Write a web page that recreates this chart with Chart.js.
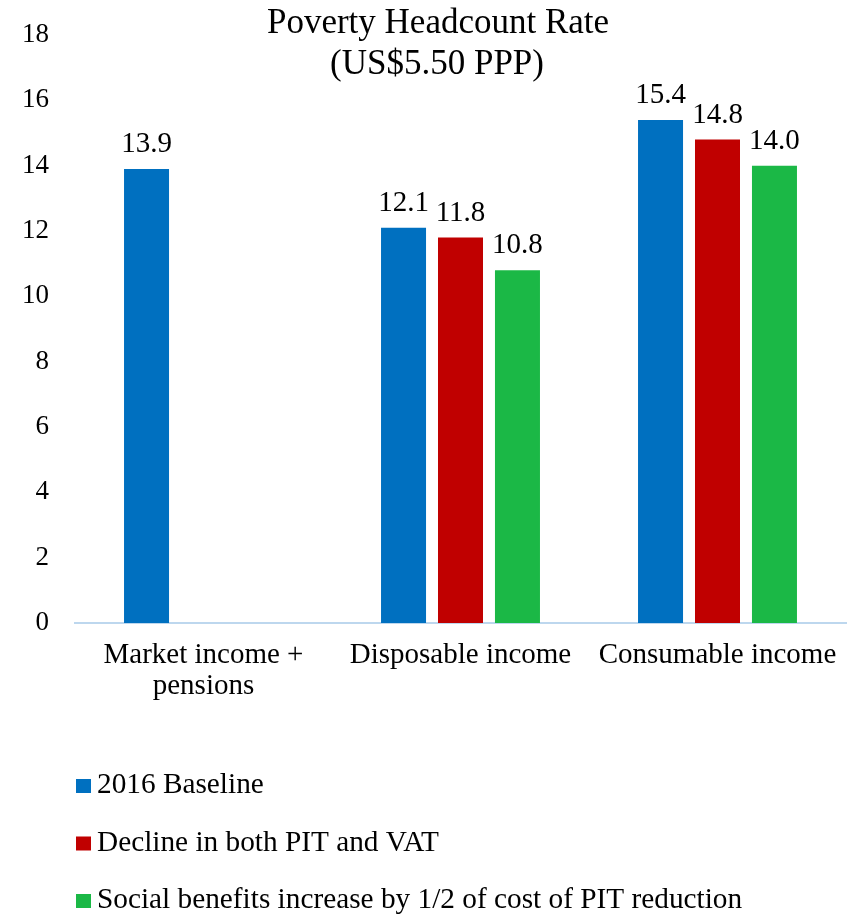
<!DOCTYPE html>
<html>
<head>
<meta charset="utf-8">
<script src="https://cdn.jsdelivr.net/npm/chart.js@4"></script>
<style>
  html, body { margin: 0; padding: 0; background: #fff; }
  canvas { display: block; }
</style>
</head>
<body>
<canvas id="c" width="852" height="917"></canvas>
<script>
// ---- data ----
const titleLines = ["Poverty Headcount Rate", "(US$5.50 PPP)"];
const categories = [["Market income +", "pensions"], "Disposable income", "Consumable income"];
const seriesNames = ["2016 Baseline", "Decline in both PIT and VAT", "Social benefits increase by 1/2 of cost of PIT reduction"];
const baselineValues = [13.9, 12.1, 15.4];
const pitVatValues = [null, 11.8, 14.8];
const socialBenefitValues = [null, 10.8, 14.0];
const yMin = 0, yMax = 18, yStep = 2;

// ---- styles ----
const FONT = '"Liberation Serif", "Times New Roman", serif';
const colors = ["#0070C0", "#C00000", "#1BB846"];

const valueLabelPlugin = {
  id: 'valueLabels',
  afterDatasetsDraw(chart) {
    const ctx = chart.ctx;
    ctx.save();
    ctx.font = '29px ' + FONT;
    ctx.fillStyle = '#000';
    ctx.textAlign = 'center';
    ctx.textBaseline = 'alphabetic';
    chart.data.datasets.forEach((ds, i) => {
      const meta = chart.getDatasetMeta(i);
      meta.data.forEach((bar, j) => {
        const v = ds.data[j];
        if (v === null || v === undefined) return;
        ctx.fillText(v.toFixed(1), bar.x, bar.y - 17);
      });
    });
    ctx.restore();
  }
};

const titlePlugin = {
  id: 'overlayTitle',
  afterDraw(chart) {
    const ctx = chart.ctx;
    ctx.save();
    ctx.font = '35px ' + FONT;
    ctx.fillStyle = '#000';
    ctx.textAlign = 'center';
    ctx.textBaseline = 'alphabetic';
    ctx.fillText(titleLines[0], 438, 33);
    ctx.fillText(titleLines[1], 437, 74);
    ctx.restore();
  }
};

const legendPlugin = {
  id: 'stackedLegend',
  afterDraw(chart) {
    const ctx = chart.ctx;
    ctx.save();
    ctx.font = '29.3px ' + FONT;
    ctx.textAlign = 'left';
    ctx.textBaseline = 'alphabetic';
    chart.data.datasets.forEach((ds, i) => {
      const base = 793 + i * 57.5;
      ctx.fillStyle = ds.backgroundColor;
      ctx.fillRect(76, base - 14, 15, 14);
      ctx.fillStyle = '#000';
      ctx.fillText(ds.label, 97, base);
    });
    ctx.restore();
  }
};

new Chart(document.getElementById('c'), {
  type: 'bar',
  data: {
    labels: categories,
    datasets: [
      { label: seriesNames[0], data: baselineValues, backgroundColor: colors[0] },
      { label: seriesNames[1], data: pitVatValues, backgroundColor: colors[1] },
      { label: seriesNames[2], data: socialBenefitValues, backgroundColor: colors[2] }
    ]
  },
  options: {
    responsive: false,
    animation: false,
    devicePixelRatio: 1,
    datasets: { bar: { categoryPercentage: 0.665, barPercentage: 0.79 } },
    layout: { padding: { top: 35, right: 6, left: 0, bottom: 0 } },
    plugins: {
      legend: { display: false },
      title: { display: false },
      tooltip: { enabled: false }
    },
    scales: {
      y: {
        min: yMin, max: yMax,
        ticks: { stepSize: yStep, color: '#000', font: { family: FONT, size: 27 }, padding: 26 },
        grid: { display: false, drawTicks: false },
        border: { display: false },
        afterFit(s) { s.width = 75; s.paddingTop = 0; s.paddingBottom = 0; }
      },
      x: {
        ticks: { color: '#000', font: { family: FONT, size: 29, lineHeight: 1.07 }, padding: 17, maxRotation: 0, autoSkip: false },
        grid: { display: false, drawTicks: false },
        border: { display: true, color: '#BDD7EE', width: 2 },
        afterFit(s) { s.height = 294; s.paddingLeft = 0; s.paddingRight = 0; }
      }
    }
  },
  plugins: [valueLabelPlugin, titlePlugin, legendPlugin]
});
</script>
</body>
</html>
